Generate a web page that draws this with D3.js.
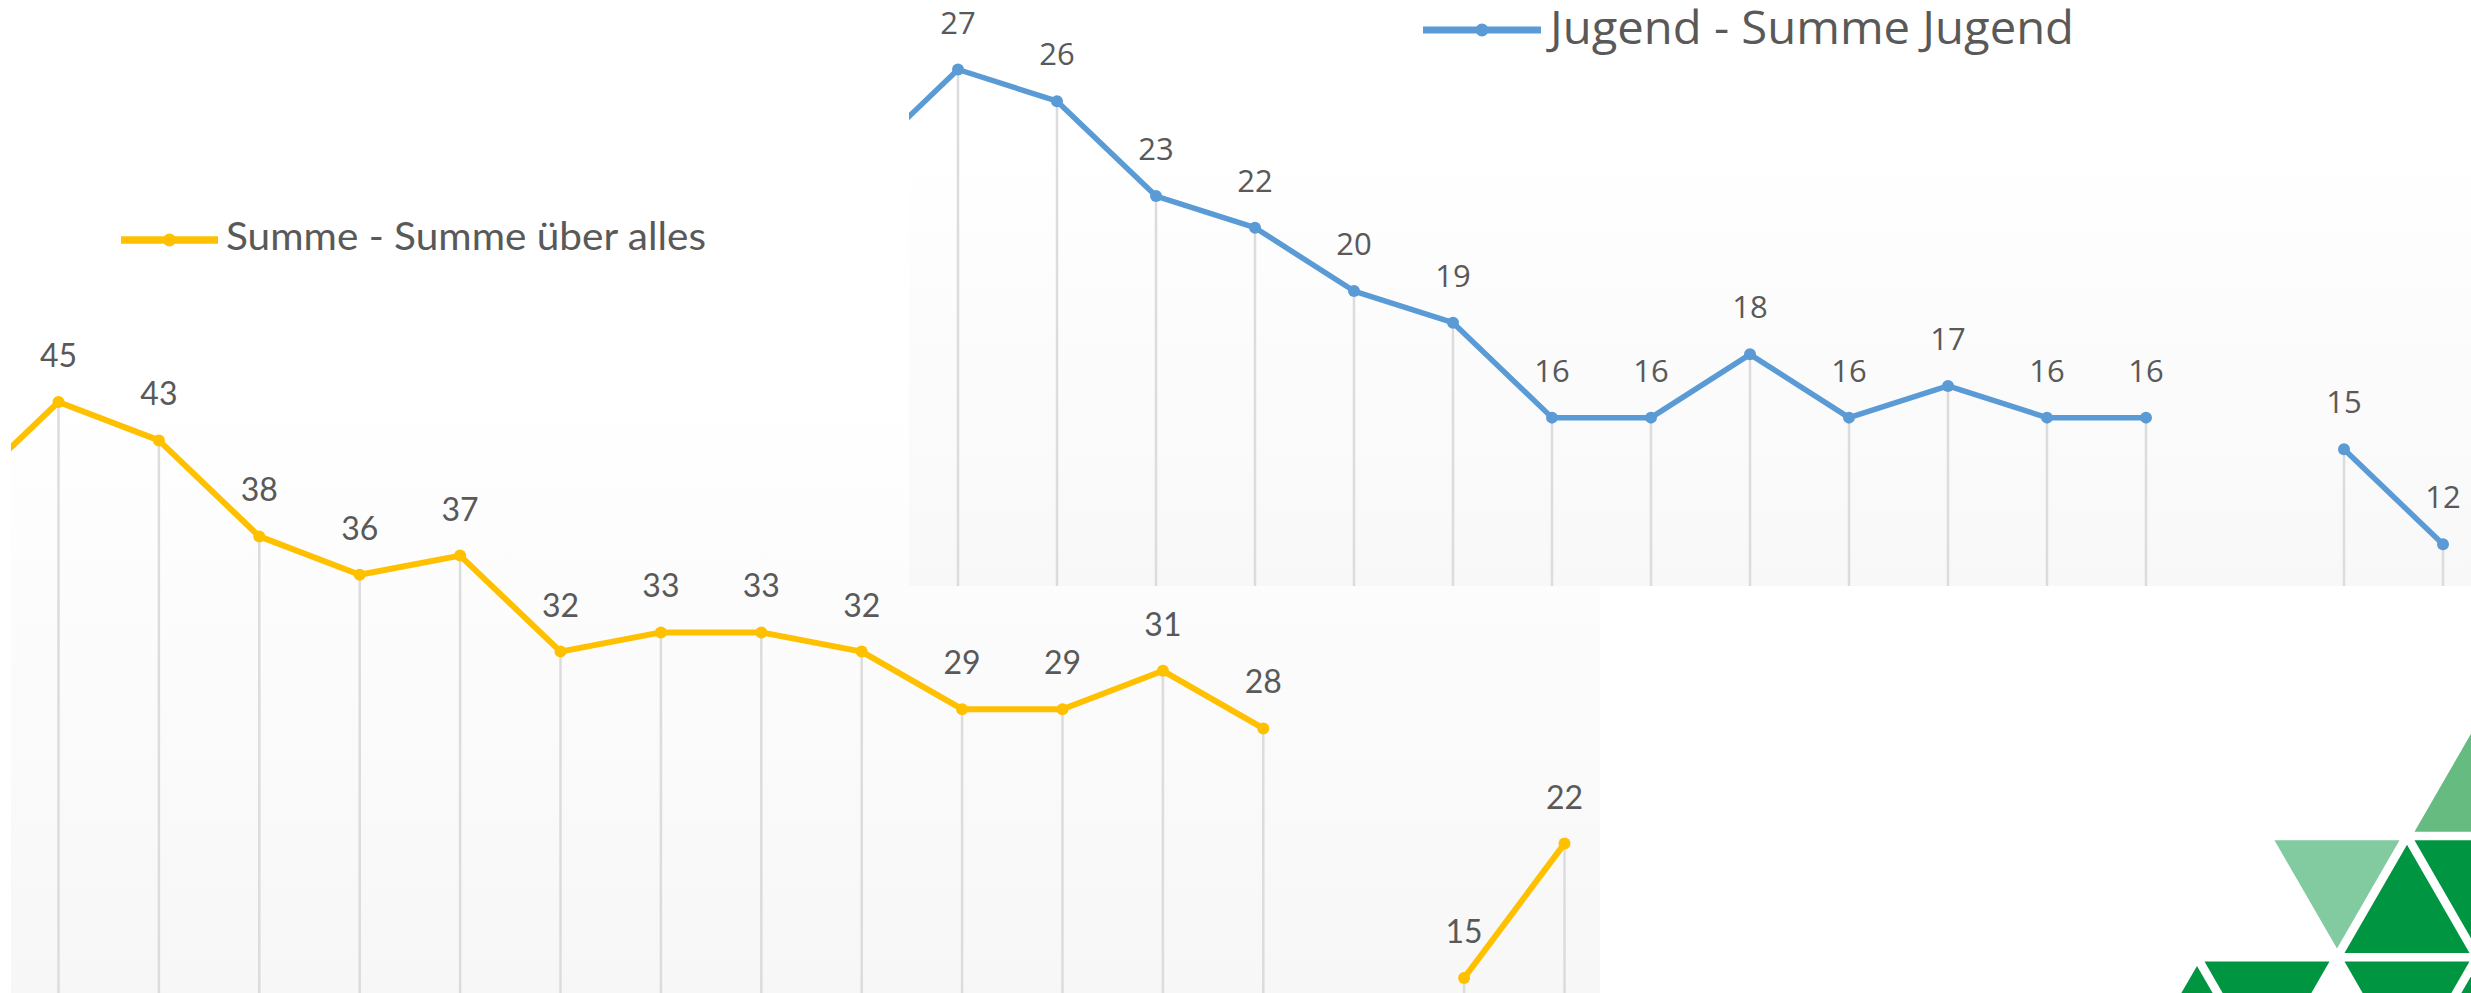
<!DOCTYPE html>
<html>
<head>
<meta charset="utf-8">
<script src="https://cdn.jsdelivr.net/npm/d3@7"></script>
<style>
  body { margin: 0; background: #fff; }
  svg { display: block; }
</style>
</head>
<body>
<svg id="chart" width="2471" height="993"></svg>
<script>
// Kategorien (Position auf der x-Achse, -1 = Punkt links ausserhalb des Ausschnitts)
const kategorienGesamt = [-1, 0, 1, 2, 3, 4, 5, 6, 7, 8, 9, 10, 11, 12, 13, 14, 15];
const werteGesamt = [40, 45, 43, 38, 36, 37, 32, 33, 33, 32, 29, 29, 31, 28, null, 15, 22];

const kategorienJugend = [-1, 0, 1, 2, 3, 4, 5, 6, 7, 8, 9, 10, 11, 12, 13, 14, 15];
const werteJugend = [24, 27, 26, 23, 22, 20, 19, 16, 16, 18, 16, 17, 16, 16, null, 15, 12];

const legendeGesamt = "Summe - Summe über alles";
const legendeJugend = "Jugend - Summe Jugend";

const svg = d3.select("#chart");
const defs = svg.append("defs");

function gradient(id, top, bottom) {
    const g = defs.append("linearGradient")
        .attr("id", id)
        .attr("x1", 0).attr("y1", 0)
        .attr("x2", 0).attr("y2", 1);
    g.append("stop").attr("offset", "0%").attr("stop-color", top);
    g.append("stop").attr("offset", "100%").attr("stop-color", bottom);
}
gradient("bgGesamt", "#ffffff", "#f7f7f7");
gradient("bgJugend", "#ffffff", "#f8f8f8");

// draws one chart panel (line + markers + drop lines + labels + legend)
function drawPanel(opts) {
    const g = svg.append("g");

    defs.append("clipPath").attr("id", opts.id + "Clip")
        .append("rect")
        .attr("x", opts.panel[0]).attr("y", opts.panel[1])
        .attr("width", opts.panel[2]).attr("height", opts.panel[3]);

    defs.append("clipPath").attr("id", opts.id + "PlotClip")
        .append("rect")
        .attr("x", opts.plot[0]).attr("y", opts.panel[1])
        .attr("width", opts.plot[2]).attr("height", opts.panel[3]);

    // panel background
    g.append("rect")
        .attr("x", opts.panel[0]).attr("y", opts.panel[1])
        .attr("width", opts.panel[2]).attr("height", opts.panel[3])
        .attr("fill", "#ffffff");

    g.append("rect")
        .attr("x", opts.plot[0]).attr("y", opts.plot[1])
        .attr("width", opts.plot[2]).attr("height", opts.plot[3])
        .attr("fill", "url(#" + opts.gradient + ")");

    const data = opts.kategorien.map((k, i) => ({ k: k, v: opts.werte[i] }));
    const shown = data.filter(d => d.v != null);

    const x = d3.scaleLinear().domain(opts.xDomain).range(opts.xRange);
    const y = d3.scaleLinear().domain(opts.yDomain).range(opts.yRange);

    const plot = g.append("g").attr("clip-path", "url(#" + opts.id + "PlotClip)");

    // drop lines
    plot.selectAll(".drop")
        .data(shown)
        .join("line")
        .attr("x1", d => x(d.k)).attr("x2", d => x(d.k))
        .attr("y1", d => y(d.v)).attr("y2", y(0))
        .attr("stroke", "#dcdcdc")
        .attr("stroke-width", 2.5);

    const line = d3.line()
        .defined(d => d.v != null)
        .x(d => x(d.k))
        .y(d => y(d.v));

    plot.append("path")
        .datum(data)
        .attr("d", line)
        .attr("fill", "none")
        .attr("stroke", opts.color)
        .attr("stroke-width", opts.lineWidth)
        .attr("stroke-linejoin", "round");

    plot.selectAll(".marker")
        .data(shown)
        .join("circle")
        .attr("cx", d => x(d.k))
        .attr("cy", d => y(d.v))
        .attr("r", 6)
        .attr("fill", opts.color);

    // data labels
    plot.selectAll(".label")
        .data(shown.filter(d => d.k >= 0))
        .join("text")
        .attr("x", d => x(d.k))
        .attr("y", d => y(d.v) - opts.labelGap)
        .attr("text-anchor", "middle")
        .attr("font-family", opts.font)
        .attr("font-size", opts.labelSize)
        .attr("fill", "#595959")
        .text(d => d.v);

    // legend
    const lg = g.append("g");
    lg.append("line")
        .attr("x1", opts.legend.x1).attr("x2", opts.legend.x2)
        .attr("y1", opts.legend.y).attr("y2", opts.legend.y)
        .attr("stroke", opts.color)
        .attr("stroke-width", opts.lineWidth + 1.5);
    lg.append("circle")
        .attr("cx", (opts.legend.x1 + opts.legend.x2) / 2)
        .attr("cy", opts.legend.y)
        .attr("r", 6.5)
        .attr("fill", opts.color);
    lg.append("text")
        .attr("x", opts.legend.tx)
        .attr("y", opts.legend.ty)
        .attr("font-family", opts.font)
        .attr("font-size", opts.legend.size)
        .attr("fill", "#595959")
        .attr("textLength", opts.legend.width)
        .attr("lengthAdjust", "spacingAndGlyphs")
        .text(opts.legend.text);

    g.attr("clip-path", "url(#" + opts.id + "Clip)");
}

// lower, yellow chart
drawPanel({
    id: "gesamt",
    panel: [0, 0, 1600, 993],
    plot: [11, 380, 1589, 613],
    gradient: "bgGesamt",
    kategorien: kategorienGesamt,
    werte: werteGesamt,
    xDomain: [0, 15],
    xRange: [58.5, 1564.5],
    yDomain: [0, 45],
    yRange: [1266, 402],
    color: "#ffc000",
    lineWidth: 6,
    font: "Lato, 'Open Sans', sans-serif",
    labelSize: 32,
    labelGap: 35,
    legend: { x1: 121, x2: 218, y: 240, tx: 226, ty: 250, size: 38, width: 480, text: legendeGesamt }
});

// upper, blue chart (lies on top)
drawPanel({
    id: "jugend",
    panel: [909, 0, 1562, 586],
    plot: [909, 141, 1562, 445],
    gradient: "bgJugend",
    kategorien: kategorienJugend,
    werte: werteJugend,
    xDomain: [0, 15],
    xRange: [958, 2443],
    yDomain: [0, 27],
    yRange: [924, 69.5],
    color: "#5b9bd5",
    lineWidth: 5.5,
    font: "'Open Sans', sans-serif",
    labelSize: 31,
    labelGap: 36,
    legend: { x1: 1423, x2: 1541, y: 30, tx: 1550, ty: 44, size: 45, width: 524, text: legendeJugend }
});

// logo: triangles on a lattice (row, column step, pointing up?, colour)
const side = 140;
const rowH = side * Math.sqrt(3) / 2;
const shrink = 0.893;
const logoX = d3.scaleLinear().domain([0, 1]).range([2407, 2407 + side / 2]);
const logoY = d3.scaleLinear().domain([0, 1]).range([836 - rowH, 836]);
const dreiecke = [
    { r: 0, c: 1, up: true, col: "#66bb81" },
    { r: 1, c: -1, up: false, col: "#82ca9f" },
    { r: 1, c: 0, up: true, col: "#009540" },
    { r: 1, c: 1, up: false, col: "#009540" },
    { r: 2, c: -3, up: true, col: "#009540" },
    { r: 2, c: -2, up: false, col: "#009540" },
    { r: 2, c: 0, up: false, col: "#009540" },
    { r: 2, c: 1, up: true, col: "#009540" }
];

svg.append("g").selectAll("path")
    .data(dreiecke)
    .join("path")
    .attr("fill", d => d.col)
    .attr("d", d => {
        const cx = logoX(d.c);
        const top = logoY(d.r);
        const pts = d.up
            ? [[cx, top], [cx + side / 2, top + rowH], [cx - side / 2, top + rowH]]
            : [[cx - side / 2, top], [cx + side / 2, top], [cx, top + rowH]];
        const mx = d3.mean(pts, p => p[0]);
        const my = d3.mean(pts, p => p[1]);
        return "M" + pts.map(p => [mx + (p[0] - mx) * shrink, my + (p[1] - my) * shrink].join(",")).join("L") + "Z";
    });
</script>
</body>
</html>
